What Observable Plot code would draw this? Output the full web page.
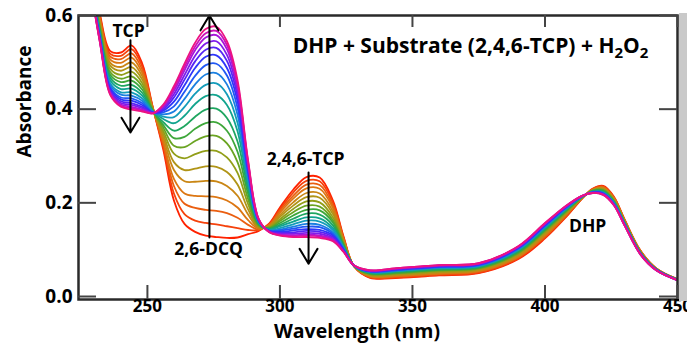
<!DOCTYPE html>
<html><head><meta charset="utf-8">
<script src="https://cdn.jsdelivr.net/npm/d3@7"></script>
<script src="https://cdn.jsdelivr.net/npm/@observablehq/plot@0.6"></script>
<style>
html,body{margin:0;padding:0;background:#fff;}
#wrap{position:relative;width:687px;height:344px;overflow:hidden;}
#shade{position:absolute;left:679px;top:13px;width:8px;height:288px;background:#c9c9c9;}
</style></head>
<body><div id="wrap"></div>
<script>
// Wavelengths (nm) at which the scans were read
const wavelengths = [228,232,236,240,244,248,252,256,260,264,268,272,276,280,284,288,292,296,300,305,310,315,320,324,328,334,345,360,375,390,400,408,414,418,422,426,430,436,442,450];

// Absorbance: one row per wavelength, one column per scan (scan 1 = red ... scan 20 = magenta)
const absorbance = [
 [.720,.718,.715,.712,.709,.707,.704,.701,.698,.696,.693,.691,.689,.687,.685,.684,.683,.682,.681,.680],
 [.605,.601,.598,.594,.589,.585,.580,.576,.572,.568,.565,.561,.558,.556,.553,.551,.549,.547,.546,.545],
 [.524,.518,.512,.506,.499,.493,.486,.479,.473,.467,.461,.455,.451,.446,.443,.439,.437,.434,.432,.430],
 [.521,.514,.507,.499,.490,.482,.473,.465,.458,.450,.443,.436,.431,.425,.421,.417,.413,.410,.407,.405],
 [.536,.528,.519,.510,.500,.490,.480,.470,.461,.452,.444,.436,.429,.423,.418,.413,.409,.405,.402,.399],
 [.498,.492,.485,.478,.471,.464,.456,.449,.442,.435,.429,.423,.418,.413,.409,.405,.402,.399,.397,.395],
 [.405,.404,.403,.402,.401,.400,.399,.398,.397,.396,.396,.395,.394,.393,.393,.392,.392,.392,.391,.391],
 [.313,.319,.325,.331,.339,.346,.353,.360,.366,.372,.379,.384,.389,.393,.397,.400,.403,.406,.408,.410],
 [.205,.220,.236,.251,.270,.287,.305,.322,.338,.354,.370,.383,.395,.406,.416,.425,.432,.439,.444,.449],
 [.155,.176,.198,.220,.246,.270,.295,.319,.341,.364,.386,.405,.422,.437,.451,.463,.473,.483,.490,.497],
 [.138,.162,.189,.215,.245,.273,.304,.332,.358,.384,.411,.433,.453,.471,.488,.502,.514,.526,.534,.542],
 [.130,.157,.185,.214,.247,.278,.311,.342,.370,.399,.428,.452,.474,.494,.512,.527,.540,.553,.562,.571],
 [.127,.154,.183,.212,.246,.277,.311,.343,.372,.401,.430,.455,.477,.497,.515,.531,.545,.558,.567,.576],
 [.125,.150,.178,.205,.236,.266,.297,.327,.354,.381,.409,.432,.453,.472,.488,.503,.516,.528,.537,.545],
 [.126,.146,.168,.190,.215,.239,.264,.287,.309,.331,.353,.371,.388,.403,.417,.428,.439,.449,.455,.462],
 [.133,.142,.153,.163,.175,.186,.197,.208,.219,.229,.239,.248,.256,.263,.269,.274,.279,.284,.287,.290],
 [.140,.142,.143,.145,.147,.148,.150,.152,.154,.155,.157,.158,.160,.161,.162,.163,.163,.164,.165,.165],
 [.156,.155,.154,.152,.151,.150,.148,.147,.146,.144,.143,.142,.141,.140,.140,.139,.138,.138,.137,.137],
 [.190,.186,.183,.179,.174,.170,.165,.161,.157,.153,.150,.146,.143,.141,.138,.136,.134,.132,.131,.130],
 [.228,.222,.215,.209,.201,.194,.187,.180,.173,.166,.160,.154,.149,.145,.141,.137,.134,.131,.129,.127],
 [.255,.247,.239,.231,.221,.212,.203,.194,.185,.177,.169,.162,.155,.149,.144,.140,.136,.132,.130,.127],
 [.254,.246,.238,.230,.220,.211,.201,.192,.184,.175,.167,.160,.153,.148,.142,.138,.134,.130,.128,.125],
 [.205,.200,.194,.189,.182,.176,.169,.163,.158,.152,.146,.142,.137,.133,.130,.127,.124,.122,.120,.118],
 [.128,.126,.124,.122,.119,.117,.115,.112,.110,.108,.106,.104,.102,.101,.100,.098,.097,.096,.096,.095],
 [.064,.064,.064,.064,.065,.065,.065,.065,.065,.065,.065,.065,.066,.066,.066,.066,.066,.066,.066,.066],
 [.040,.041,.042,.043,.044,.045,.047,.048,.049,.050,.051,.052,.053,.053,.054,.054,.055,.055,.056,.056],
 [.040,.041,.043,.044,.046,.047,.049,.050,.051,.053,.054,.055,.056,.057,.058,.059,.060,.060,.061,.061],
 [.045,.046,.048,.049,.051,.052,.054,.056,.057,.058,.060,.061,.062,.063,.064,.065,.066,.066,.067,.067],
 [.050,.051,.053,.054,.056,.057,.059,.060,.061,.063,.064,.065,.066,.067,.068,.069,.070,.070,.071,.071],
 [.080,.082,.084,.085,.087,.089,.092,.093,.095,.097,.099,.100,.102,.103,.104,.105,.106,.107,.107,.108],
 [.124,.126,.128,.130,.133,.135,.138,.140,.142,.144,.146,.148,.150,.151,.152,.154,.155,.156,.156,.157],
 [.170,.171,.173,.175,.176,.178,.180,.182,.183,.185,.186,.188,.189,.190,.191,.192,.192,.193,.194,.194],
 [.209,.209,.210,.210,.211,.211,.211,.212,.212,.213,.213,.213,.214,.214,.214,.214,.215,.215,.215,.215],
 [.230,.230,.229,.228,.228,.227,.226,.226,.225,.225,.224,.223,.223,.223,.222,.222,.222,.221,.221,.221],
 [.236,.235,.234,.232,.231,.230,.228,.227,.226,.224,.223,.222,.221,.220,.220,.219,.218,.218,.217,.217],
 [.213,.212,.211,.210,.208,.207,.206,.204,.203,.202,.201,.200,.199,.198,.197,.197,.196,.196,.195,.195],
 [.165,.164,.163,.163,.162,.161,.160,.159,.158,.157,.156,.156,.155,.154,.154,.153,.153,.153,.152,.152],
 [.098,.098,.097,.097,.096,.095,.095,.094,.094,.093,.093,.092,.092,.091,.091,.091,.091,.090,.090,.090],
 [.060,.060,.060,.059,.059,.059,.058,.058,.058,.058,.057,.057,.057,.057,.057,.056,.056,.056,.056,.056],
 [.037,.037,.037,.037,.036,.036,.036,.036,.036,.036,.036,.036,.035,.035,.035,.035,.035,.035,.035,.035]
];

// Scan colours, first (red) to last (magenta)
const scanColors = ["#ff2200","#f5420c","#ea5e10","#dc7612","#c98614","#b09416","#929e18","#6aa422","#3ea73a","#1fa660",
                    "#12a48e","#149cba","#1a7fe0","#2058f4","#2f36fa","#5526f4","#7e1cea","#a616d8","#cc12b8","#ec1282"];

const xTicks = [250, 300, 350, 400, 450];
const yTicks = [0, 0.2, 0.4, 0.6];
const yTickLabels = ["0.0", "0.2", "0.4", "0.6"];

const bandLabels = [
  {text: "TCP", x: 242.9, y: 0.566},
  {text: "2,6-DCQ", x: 273.1, y: 0.100},
  {text: "2,4,6-TCP", x: 309.7, y: 0.293},
  {text: "DHP", x: 416.1, y: 0.149}
];
const changeArrows = [
  {x: 243.6, from: 0.547, to: 0.350},
  {x: 273.4, from: 0.126, to: 0.600},
  {x: 310.8, from: 0.265, to: 0.070}
];
const titleParts = ["DHP + Substrate (2,4,6-TCP) + H", "2", "O", "2"];
const titlePos = [{x: 371.9, y: 0.534}];
const xLabel = "Wavelength (nm)";
const yLabel = "Absorbance";

const scanIds = scanColors.map((c, i) => i);
const points = [];
scanIds.forEach(k => wavelengths.forEach((w, i) => points.push({scan: k, w, a: absorbance[i][k]})));

const font = "'Open Sans', 'DejaVu Sans', sans-serif";
const titleText = titleParts.join("");

const chart = Plot.plot({
  width: 687, height: 344,
  marginLeft: 78, marginRight: 10, marginTop: 15, marginBottom: 45,
  x: {domain: [224, 450], axis: null},
  y: {domain: [-0.0064, 0.6], axis: null},
  color: {type: "ordinal", domain: scanIds, range: scanColors},
  style: {fontFamily: font, background: "white", color: "black"},
  marks: [
    Plot.line(points, {x: "w", y: "a", z: "scan", stroke: "scan", strokeWidth: 1.8, curve: "catmull-rom", clip: true}),
    Plot.arrow(changeArrows, {x1: "x", x2: "x", y1: "from", y2: "to", stroke: "black", strokeWidth: 2, headLength: 13, headAngle: 62}),
    Plot.text(bandLabels, {x: "x", y: "y", text: "text", fontSize: 17.5, fontWeight: "bold", fontFamily: font, fill: "black"}),
    Plot.text(titlePos, {x: "x", y: "y", text: () => titleText, fontSize: 21, fontWeight: "bold", fontFamily: font, fill: "black"}),
    Plot.frame({stroke: "#2a2a2a", strokeWidth: 2.5}),
    Plot.tickY(yTicks, {y: d => d, insetRight: 581, stroke: "#444", strokeWidth: 2}),
    Plot.tickY(yTicks, {y: d => d, insetLeft: 581, stroke: "#444", strokeWidth: 2}),
    Plot.tickX(xTicks, {x: d => d, insetBottom: 272, stroke: "#444", strokeWidth: 2}),
    Plot.tickX(xTicks, {x: d => d, insetTop: 270, stroke: "#444", strokeWidth: 2}),
    Plot.text(yTicks, {y: d => d, text: (d, i) => yTickLabels[i], frameAnchor: "left", textAnchor: "end", dx: -6, fontSize: 19, fontWeight: "bold", fontFamily: font, fill: "black"}),
    Plot.text(xTicks, {x: d => d, text: d => String(d), frameAnchor: "bottom", lineAnchor: "top", dy: 0, fontSize: 17, fontWeight: "bold", fontFamily: font, fill: "black"}),
    Plot.text([yLabel], {text: d => d, frameAnchor: "left", rotate: -90, dx: -54, fontSize: 19, fontWeight: "bold", fontFamily: font, fill: "black"}),
    Plot.text([xLabel], {text: d => d, frameAnchor: "bottom", lineAnchor: "top", dy: 25, dx: -21, fontSize: 19.5, fontWeight: "bold", fontFamily: font, fill: "black"})
  ]
});

// subscripts in the title (H2O2)
d3.select(chart).selectAll("text").filter(function() { return this.textContent === titleText; }).each(function() {
  const el = d3.select(this);
  el.text(null);
  el.append("tspan").text(titleParts[0]);
  el.append("tspan").attr("dy", 5).attr("font-size", 15).text(titleParts[1]);
  el.append("tspan").attr("dy", -5).text(titleParts[2]);
  el.append("tspan").attr("dy", 5).attr("font-size", 15).text(titleParts[3]);
});

const wrap = document.getElementById("wrap");
wrap.appendChild(chart);
const shade = document.createElement("div");
shade.id = "shade";
wrap.appendChild(shade);
</script>
</body></html>
